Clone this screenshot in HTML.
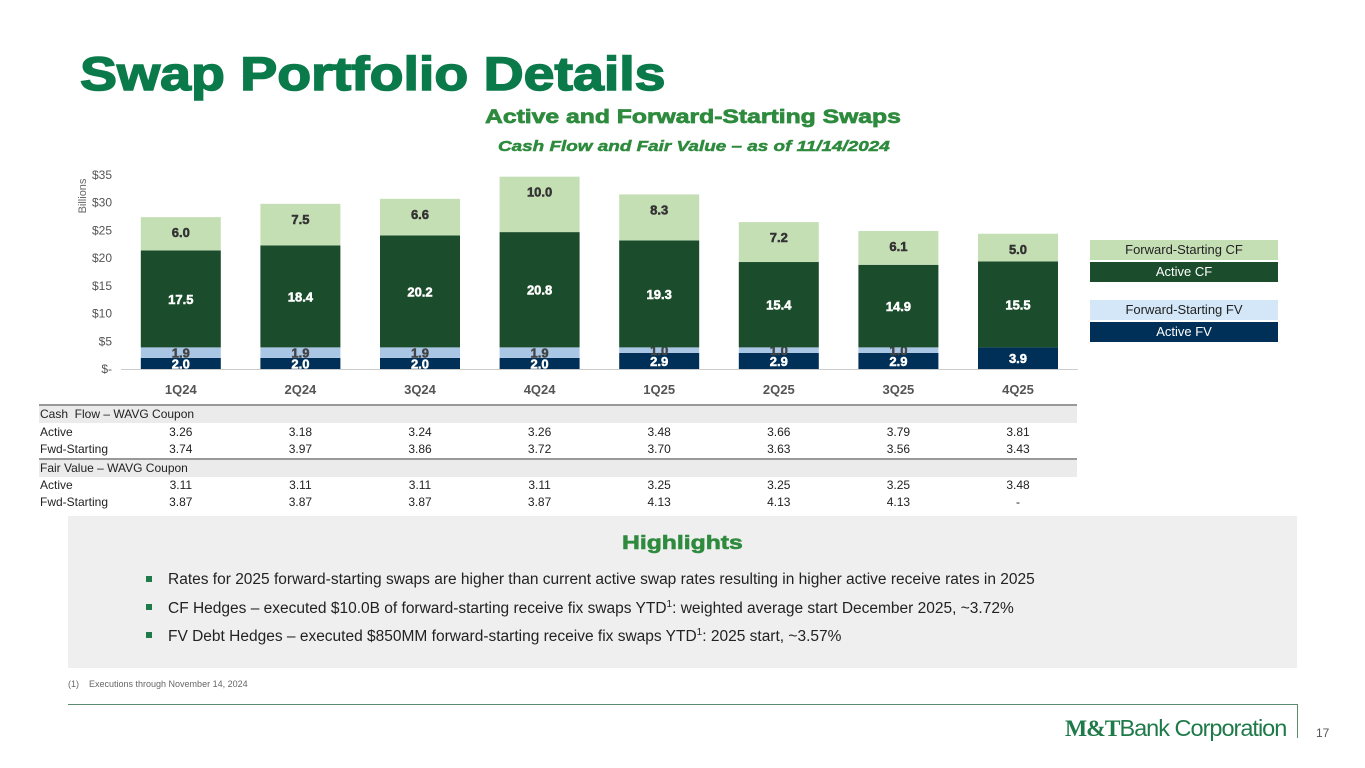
<!DOCTYPE html>
<html><head><meta charset="utf-8"><style>
body{margin:0;width:1365px;height:768px;position:relative;background:#fff;font-family:"Liberation Sans",sans-serif;overflow:hidden}
.a{position:absolute}
.hv{transform-origin:left top;white-space:nowrap}
.leg{position:absolute;left:1090px;width:188px;height:20px;font-size:13px;text-align:center;line-height:20px}
.tr{position:absolute;left:39px;width:1038px;height:17px;font-size:12px;line-height:17px;color:#222}
.th{background:#ebebeb;border-top:2px solid #999}
.c{position:absolute;width:80px;text-align:center}
.bul{position:absolute;left:100px;font-size:15.5px;color:#222}
.bul:before{content:"";position:absolute;left:-22px;top:5px;width:6px;height:6px;background:#1f7a4a}
</style></head><body>
<div class="a hv" style="left:80px;top:46px;font-size:47px;font-weight:bold;color:#0a7a4a;transform:scaleX(1.18);-webkit-text-stroke:1.5px #0a7a4a">Swap Portfolio Details</div>
<div class="a hv" style="left:485px;top:107px;font-size:19px;font-weight:bold;color:#2e8b3e;transform:scaleX(1.3);-webkit-text-stroke:0.7px #2e8b3e">Active and Forward-Starting Swaps</div>
<div class="a hv" style="left:498px;top:138px;font-size:15px;font-weight:bold;font-style:italic;color:#2e8b3e;transform:scaleX(1.26);-webkit-text-stroke:0.5px #2e8b3e">Cash Flow and Fair Value – as of 11/14/2024</div>
<svg class="a" style="left:0;top:0" width="1365" height="400" id="chart"></svg>
<div class="leg" style="top:240px;background:#c5dfb5;color:#222">Forward-Starting CF</div>
<div class="leg" style="top:262px;background:#1b4d2c;color:#fff">Active CF</div>
<div class="leg" style="top:300px;background:#d3e7f8;color:#222">Forward-Starting FV</div>
<div class="leg" style="top:322px;background:#003057;color:#fff">Active FV</div>
<div id="tbl"></div>
<div class="a" style="left:68px;top:516px;width:1229px;height:152px;background:#efefef">
<div class="a hv" style="left:554px;top:17px;font-size:19px;font-weight:bold;color:#2e8b3e;transform:scaleX(1.3);-webkit-text-stroke:0.6px #2e8b3e">Highlights</div>
<div class="bul" style="top:55px">Rates for 2025 forward-starting swaps are higher than current active swap rates resulting in higher active receive rates in 2025</div>
<div class="bul" style="top:83px">CF Hedges – executed $10.0B of forward-starting receive fix swaps YTD<sup style="font-size:10px">1</sup>: weighted average start December 2025, ~3.72%</div>
<div class="bul" style="top:111px">FV Debt Hedges – executed $850MM forward-starting receive fix swaps YTD<sup style="font-size:10px">1</sup>: 2025 start, ~3.57%</div>
</div>
<div class="a" style="left:68px;top:679px;font-size:9px;color:#666">(1)&nbsp;&nbsp;&nbsp;&nbsp;Executions through November 14, 2024</div>
<div class="a" style="left:68px;top:704px;width:1229px;height:1px;background:#5a8a70"></div>
<div class="a" style="left:1297px;top:704px;width:1px;height:34px;background:#5a8a70"></div>
<div class="a" style="left:1065px;top:715px;font-size:23.5px;color:#1f7a4a;letter-spacing:-1px;white-space:nowrap"><b style="font-family:'Liberation Serif',serif">M&amp;T</b>Bank Corporation</div>
<div class="a" style="left:1316px;top:726px;font-size:12px;color:#555">17</div>
<script>
const categories=["1Q24","2Q24","3Q24","4Q24","1Q25","2Q25","3Q25","4Q25"];
const activeFV=[2.0,2.0,2.0,2.0,2.9,2.9,2.9,3.9];
const fwdFV=[1.9,1.9,1.9,1.9,1.0,1.0,1.0,0];
const activeCF=[17.5,18.4,20.2,20.8,19.3,15.4,14.9,15.5];
const fwdCF=[6.0,7.5,6.6,10.0,8.3,7.2,6.1,5.0];
const yTicks=[0,5,10,15,20,25,30,35];
const cfActive=["3.26","3.18","3.24","3.26","3.48","3.66","3.79","3.81"];
const cfFwd=["3.74","3.97","3.86","3.72","3.70","3.63","3.56","3.43"];
const fvActive=["3.11","3.11","3.11","3.11","3.25","3.25","3.25","3.48"];
const fvFwd=["3.87","3.87","3.87","3.87","4.13","4.13","4.13","-"];

const NS="http://www.w3.org/2000/svg";
const svg=document.getElementById('chart');
const y0=369,pxPer=194/35,x0=121,step=119.6,bw=80;
const Y=v=>y0-v*pxPer;
const X=i=>x0+step*i+step/2;
function el(t,a){const e=document.createElementNS(NS,t);for(const k in a)e.setAttribute(k,a[k]);svg.appendChild(e);return e;}
yTicks.forEach(t=>{
  const e=el('text',{x:112,y:Y(t)+4,'text-anchor':'end','font-size':12,fill:'#555'});
  e.textContent=t===0?'$-':'$'+t;
  
  
});
const yt=el('text',{transform:'translate(86,196) rotate(-90)','text-anchor':'middle','font-size':11,fill:'#666'});
yt.textContent='Billions';


el('line',{x1:x0,x2:x0+step*8,y1:y0+0.5,y2:y0+0.5,stroke:'#ccc'});
const series=[[activeFV,'#003057','#fff','active-fv'],[fwdFV,'#a9c6e4','#444','fwd-fv'],[activeCF,'#1b4d2c','#fff','active-cf'],[fwdCF,'#c5dfb5','#333','fwd-cf']];
categories.forEach((c,i)=>{
  let base=0;
  series.forEach(([arr,col,tc,nm])=>{
    const v=arr[i];
    if(v>0){
      const r=el('rect',{x:X(i)-bw/2,y:Y(base+v),width:bw,height:v*pxPer,fill:col});
      
      
      const ty=nm==='fwd-cf'?Y(base+v)+20:(Y(base)+Y(base+v))/2+5;
      const t=el('text',{x:X(i),y:ty,'text-anchor':'middle','font-size':13,'font-weight':'bold',fill:tc,stroke:tc,'stroke-width':0.5});
      t.textContent=v.toFixed(1);
      
      
    }
    base+=v;
  });
  const l=el('text',{x:X(i),y:394,'text-anchor':'middle','font-size':13,'font-weight':'bold',fill:'#555'});
  l.textContent=c;
  
  
});
const tbl=document.getElementById('tbl');
function row(top,label,vals,head){
  const d=document.createElement('div');
  d.className='tr'+(head?' th':'');
  d.style.top=top+'px';
  
  
  d.innerHTML='<span style="position:absolute;left:1px">'+label+'</span>';
  (vals||[]).forEach((v,i)=>{const s=document.createElement('span');s.className='c';s.style.left=(X(i)-40-39)+'px';s.textContent=v;d.appendChild(s);});
  tbl.appendChild(d);
}
row(404,'Cash&nbsp; Flow – WAVG Coupon',null,true);
row(424,'Active',cfActive);
row(441,'Fwd-Starting',cfFwd);
row(458,'Fair Value – WAVG Coupon',null,true);
row(477,'Active',fvActive);
row(494,'Fwd-Starting',fvFwd);
</script>
</body></html>
